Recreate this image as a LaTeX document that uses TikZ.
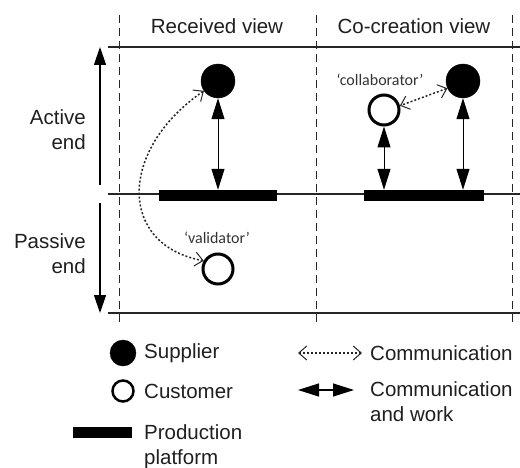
\documentclass[tikz,border=0pt]{standalone}
\usepackage{fontspec}
\setmainfont{Liberation Sans}
\newfontfamily\labfont{Carlito}
\usetikzlibrary{arrows.meta}
\begin{document}
\begin{tikzpicture}[x=1pt,y=-1pt,
  txt/.style={font=\fontsize{20.5}{25}\selectfont, text=black!88, inner sep=0pt},
  role/.style={font=\labfont\fontsize{16}{19}\selectfont, text=black!80, inner sep=0pt},
  supplier/.style={circle, fill=black, draw=black, minimum size=34pt, inner sep=0pt},
  customer/.style={circle, draw=black, line width=3pt, minimum size=30pt, inner sep=0pt, fill=white},
  platform/.style={rectangle, fill=black, minimum height=11pt, inner sep=0pt},
  grid/.style={line width=1.1pt, black!85},
  sep/.style={line width=1pt, black!85, dash pattern=on 8pt off 5pt},
  work/.style={line width=1pt, {Triangle[length=21pt,width=13pt]}-{Triangle[length=21pt,width=13pt]}},
  comm/.style={line width=1.5pt, black!85, dash pattern=on 2pt off 2pt,
     {Straight Barb[length=8pt,width=14pt,line width=1pt]}-{Straight Barb[length=8pt,width=14pt,line width=1pt]}},
  bigarrow/.style={line width=1.3pt, -{Triangle[length=18pt,width=12pt]}}
]
\useasboundingbox (0,0) rectangle (520,468);

% separators
\coordinate (v1t) at (119,15); \coordinate (v1b) at (119,323);
\coordinate (v2t) at (316,15); \coordinate (v2b) at (316,323);
\coordinate (v3t) at (512,15); \coordinate (v3b) at (512,323);
\draw[sep] (v1t) -- (v1b);
\draw[sep] (v2t) -- (v2b);
\draw[sep] (v3t) -- (v3b);

\coordinate (h1l) at (108,47);  \coordinate (h1r) at (520,47);
\coordinate (h2l) at (108,194); \coordinate (h2r) at (520,194);
\coordinate (h3l) at (108,313); \coordinate (h3r) at (520,313);
\draw[grid] (h1l) -- (h1r);
\draw[grid] (h2l) -- (h2r);
\draw[grid] (h3l) -- (h3r);

% headers
\node[txt] (hrec) at (217,26) {Received view};
\node[txt] (hco) at (414,26) {Co-creation view};

% side axis
\coordinate (upA) at (100,185); \coordinate (upB) at (100,47);
\coordinate (dnA) at (100,203); \coordinate (dnB) at (100,313);
\draw[bigarrow] (upA) -- (upB);
\draw[bigarrow] (dnA) -- (dnB);
\node[txt, anchor=east, align=right] (active) at (86,130) {Active\\end};
\node[txt, anchor=east, align=right] (passive) at (86,254) {Passive\\end};

% received view
\node[platform, minimum width=118pt] (bar1) at (218,195.5) {};
\node[supplier] (s1) at (218,81) {};
\node[customer] (c1) at (218,269) {};
\node[role] (val) at (217,238) {‘validator’};
\draw[work] (s1.south) -- (s1.south |- bar1.north);
\draw[comm] (s1.215) .. controls (118,150) and (118,245) .. (c1.150);

% co-creation view
\node[platform, minimum width=120pt] (bar2) at (424,195.5) {};
\node[supplier] (s2) at (463,81) {};
\node[customer] (c2) at (384,110) {};
\node[role] (col) at (380,80) {‘collaborator’};
\draw[work] (c2.south) -- (c2.south |- bar2.north);
\draw[work] (s2.south) -- (s2.south |- bar2.north);
\draw[comm] (s2.205) -- (c2.15);

% legend
\node[supplier, minimum size=26pt] (ls) at (123,353) {};
\node[customer, minimum size=21pt, line width=2.5pt] (lc) at (123,391) {};
\node[platform, minimum width=59pt] (lp) at (102.5,432.5) {};
\node[txt, anchor=west] (lst) at (144,353) {Supplier};
\node[txt, anchor=west] (lct) at (144,391) {Customer};
\node[txt, anchor=west, align=left] (lpt) at (144,447) {Production\\platform};

\coordinate (lcomA) at (298,353); \coordinate (lcomB) at (362,353);
\draw[comm, line width=1.1pt] (lcomA) -- (lcomB);
\node[txt, anchor=west] (lcomt) at (370,353) {Communication};
\coordinate (lworkA) at (298,390); \coordinate (lworkB) at (354,390);
\draw[work, line width=1.2pt] (lworkA) -- (lworkB);
\node[txt, anchor=west, align=left] (lworkt) at (370,402) {Communication\\and work};
\end{tikzpicture}
\end{document}
